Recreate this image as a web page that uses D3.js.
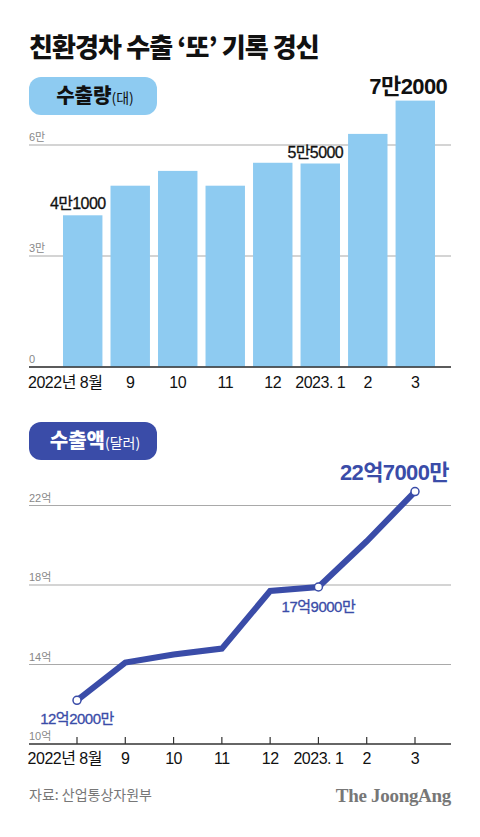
<!DOCTYPE html>
<html>
<head>
<meta charset="utf-8">
<script src="https://cdn.jsdelivr.net/npm/d3@7"></script>
<style>
  body { margin: 0; background: #fff; }
  svg { display: block; font-family: "Liberation Sans", "Noto Sans CJK KR", sans-serif; }
</style>
</head>
<body>
<svg id="chart" width="480" height="837"></svg>
<script>
// months shared by both panels
var months = ["2022년 8월", "9", "10", "11", "12", "2023. 1", "2", "3"];
// 수출량 (대)
var volume = [41000, 49000, 53000, 49000, 55200, 55000, 63000, 72000];
var volumeTicks = [0, 30000, 60000];
var volumeTickLabels = ["0", "3만", "6만"];
var volumeNotes = [[0, "4만1000"], [5, "5만5000"], [7, "7만2000"]];
// 수출액 (억 달러)
var amount = [12.2, 14.1, 14.5, 14.8, 17.7, 17.9, 20.2, 22.7];
var amountTicks = [10, 14, 18, 22];
var amountTickLabels = ["10억", "14억", "18억", "22억"];
var amountNotes = [[0, "12억2000만"], [5, "17억9000만"], [7, "22억7000만"]];

var lightBlue = "#8ecbf1", navy = "#3a4ca8", grid = "#a9a9a9";
var svg = d3.select("#chart");
var left = 29, right = 451;

svg.append("text").attr("x", left).attr("y", 57)
  .attr("font-family", "'Noto Sans CJK KR', sans-serif")
  .attr("font-size", 26).attr("font-weight", 900).attr("fill", "#111")
  .attr("letter-spacing", -0.9)
  .text("친환경차 수출 ‘또’ 기록 경신");

function pill(y, fill, color, main, unit) {
  svg.append("rect").attr("x", left).attr("y", y).attr("width", 128).attr("height", 38)
    .attr("rx", 12).attr("fill", fill);
  var t = svg.append("text").attr("x", 95).attr("y", y + 26).attr("text-anchor", "middle")
    .attr("font-family", "'Noto Sans CJK KR', sans-serif").attr("fill", color);
  t.append("tspan").attr("font-size", 20).attr("font-weight", 900).text(main);
  t.append("tspan").attr("font-size", 14).attr("font-weight", 400).text(unit);
}

// ---- bar chart ----
pill(77, lightBlue, "#111", "수출량", "(대)");

var x = d3.scaleBand().domain(months).range([63, 435]).paddingInner(0.17).paddingOuter(0);
var y = d3.scaleLinear().domain([0, 60000]).range([367, 145]);

volumeTicks.forEach(function(t, i) {
  svg.append("line").attr("x1", left).attr("x2", right)
    .attr("y1", y(t)).attr("y2", y(t)).attr("stroke", grid).attr("stroke-width", 1);
  svg.append("text").attr("x", left).attr("y", y(t) - 4)
    .attr("font-size", 11).attr("fill", "#888").text(volumeTickLabels[i]);
});

svg.selectAll(".bar").data(volume).enter().append("rect")
  .attr("class", "bar")
  .attr("x", function(d, i) { return x(months[i]); })
  .attr("y", function(d) { return y(d); })
  .attr("width", x.bandwidth())
  .attr("height", function(d) { return y(0) - y(d); })
  .attr("fill", lightBlue);

svg.append("line").attr("x1", left).attr("x2", right).attr("y1", y(0)).attr("y2", y(0))
  .attr("stroke", "#333").attr("stroke-width", 1.5);

months.forEach(function(m, i) {
  var first = i === 0;
  svg.append("text")
    .attr("x", first ? x(m) + x.bandwidth() : x(m) + x.bandwidth() / 2)
    .attr("y", 388).attr("text-anchor", first ? "end" : "middle")
    .attr("font-size", 16).attr("letter-spacing", -0.5).attr("fill", "#111").text(m);
});

volumeNotes.forEach(function(n) {
  var i = n[0], big = i === 7;
  svg.append("text")
    .attr("x", x(months[i]) + x.bandwidth() / 2 - (big ? 7 : 5))
    .attr("y", y(volume[i]) - (big ? 7 : 6))
    .attr("text-anchor", "middle")
    .attr("font-size", big ? 22 : 16).attr("font-weight", big ? 700 : 400)
    .attr("stroke", big ? "none" : "#111").attr("stroke-width", 0.3)
    .attr("letter-spacing", -0.6).attr("fill", "#111").text(n[1]);
});

// ---- line chart ----
pill(422, navy, "#fff", "수출액", "(달러)");

var x2 = d3.scalePoint().domain(months).range([77, 415]);
var y2 = d3.scaleLinear().domain([10, 22]).range([744, 505.5]);

amountTicks.forEach(function(t, i) {
  if (t > 10) {
    svg.append("line").attr("x1", left).attr("x2", right)
      .attr("y1", y2(t)).attr("y2", y2(t)).attr("stroke", grid).attr("stroke-width", 1);
  }
  svg.append("text").attr("x", left).attr("y", y2(t) - 4)
    .attr("font-size", 11).attr("fill", "#888").text(amountTickLabels[i]);
});

svg.append("line").attr("x1", left).attr("x2", right).attr("y1", y2(10)).attr("y2", y2(10))
  .attr("stroke", "#333").attr("stroke-width", 1.5);

months.forEach(function(m, i) {
  svg.append("line").attr("x1", x2(m)).attr("x2", x2(m)).attr("y1", 737).attr("y2", 744)
    .attr("stroke", "#333").attr("stroke-width", 1.2);
  var first = i === 0;
  svg.append("text")
    .attr("x", first ? x2(m) + 25 : x2(m))
    .attr("y", 764).attr("text-anchor", first ? "end" : "middle")
    .attr("font-size", 16).attr("letter-spacing", -0.5).attr("fill", "#111").text(m);
});

var line = d3.line()
  .x(function(d, i) { return x2(months[i]); })
  .y(function(d) { return y2(d); });

svg.append("path").datum(amount).attr("d", line)
  .attr("fill", "none").attr("stroke", navy).attr("stroke-width", 6)
  .attr("stroke-linejoin", "miter");

amountNotes.forEach(function(n) {
  var i = n[0];
  svg.append("circle").attr("cx", x2(months[i])).attr("cy", y2(amount[i])).attr("r", 4)
    .attr("fill", "#fff").attr("stroke", navy).attr("stroke-width", 1.5);
});

// value notes
var n0 = amountNotes[0], n1 = amountNotes[1], n2 = amountNotes[2];
svg.append("text").attr("x", x2(months[n0[0]])).attr("y", y2(amount[n0[0]]) + 24)
  .attr("text-anchor", "middle").attr("font-size", 15)
  .attr("stroke", navy).attr("stroke-width", 0.3)
  .attr("letter-spacing", -0.5).attr("fill", navy).text(n0[1]);
svg.append("text").attr("x", x2(months[n1[0]])).attr("y", y2(amount[n1[0]]) + 25)
  .attr("text-anchor", "middle").attr("font-size", 15)
  .attr("stroke", navy).attr("stroke-width", 0.3)
  .attr("letter-spacing", -0.5).attr("fill", navy).text(n1[1]);
svg.append("text").attr("x", right - 2).attr("y", y2(amount[n2[0]]) - 12)
  .attr("text-anchor", "end").attr("font-size", 22).attr("font-weight", 700)
  .attr("letter-spacing", -0.6).attr("fill", navy).text(n2[1]);

// ---- footer ----
svg.append("text").attr("x", left).attr("y", 800).attr("font-size", 14)
  .attr("font-family", "'Noto Sans CJK KR', sans-serif")
  .attr("fill", "#777").text("자료: 산업통상자원부");
svg.append("text").attr("x", right).attr("y", 802).attr("text-anchor", "end")
  .attr("font-family", "'Liberation Serif', serif")
  .attr("font-size", 19).attr("font-weight", 700).attr("letter-spacing", -0.3)
  .attr("fill", "#777").text("The JoongAng");
</script>
</body>
</html>
